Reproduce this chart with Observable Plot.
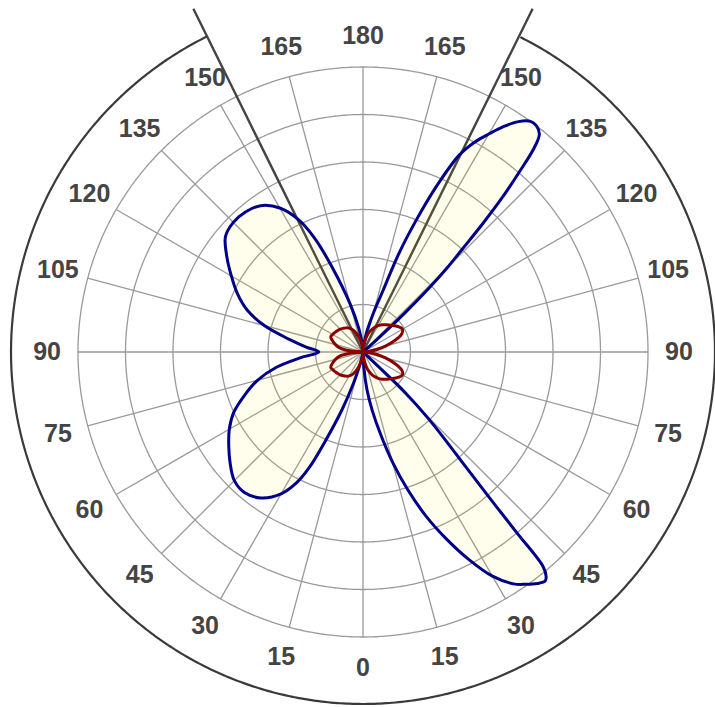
<!DOCTYPE html>
<html>
<head>
<meta charset="utf-8">
<script src="https://cdn.jsdelivr.net/npm/d3@7"></script>
<script src="https://cdn.jsdelivr.net/npm/@observablehq/plot@0.6"></script>
<style>
  html, body { margin: 0; padding: 0; background: #fff; }
  #chart svg { display: block; overflow: visible; }
  #chart svg text { font-weight: 700; }
</style>
</head>
<body>
<div id="chart"></div>
<script>
// ---- data (angle in degrees measured from the bottom, positive to the right; radius in grid rings) ----
const blueTheta = [-180,-175,-170,-165,-160,-157,-154,-150,-145,-140,-135,-130,-125,-120,-115,-110,-105,-100,-95,-90,
  -85,-80,-75,-70,-65,-60,-55,-50,-45,-40,-35,-30,-27,-25,-23,-20,-17,-14,-10,-5,
  0,3,6,9,12,15,18,21,24,27,30,33,35,37,38.5,39.2,40.0,40.4,41.0,42.2,44.4,46.2,46.6,47.5,50,
  130,132,133,134,135,136,137,138,139,140,141,142.5,144,146,148,150,152,154,156,158,160,162,165,170,175];
const blueR = [0,0.15,0.5,1.05,1.9,2.6,3.1,3.5,3.76,3.85,3.86,3.78,3.5,3.2,2.92,2.6,2.15,1.6,1.2,0.93,
  1.3,1.85,2.3,2.65,3.0,3.25,3.45,3.65,3.83,3.87,3.75,3.45,3.1,2.7,2.05,1.3,0.7,0.3,0.06,0.01,
  0,0.32,0.8,1.25,1.76,2.4,3.05,3.7,4.3,4.9,5.45,5.82,5.97,6.1,6.16,6.1,5.9,5.0,4.0,3.0,2.0,1.2,0.55,0.15,0,
  0,0.4,1.2,1.9,2.5,3.0,3.7,4.4,5.0,5.6,5.9,6.0,6.0,5.85,5.6,5.3,5.0,4.6,3.85,3.0,2.2,1.35,0.85,0.4,0.12];

const redTheta = [-180,-175,-170,-165,-160,-155,-150,-145,-140,-135,-130,-125,-120,-115,-110,-105,-100,-95,-90,
  -85,-80,-75,-70,-65,-60,-55,-50,-45,-40,-35,-30,-25,-20,-15,-10,-5,
  0,5,10,15,20,25,30,35,40,45,50,55,60,65,70,75,80,85,90,
  95,100,105,110,115,120,125,130,135,140,145,150,155,160,165,170,175];
const redR = [0,0.1,0.2,0.3,0.42,0.52,0.58,0.62,0.65,0.68,0.7,0.72,0.74,0.75,0.68,0.6,0.5,0.28,0,
  0.28,0.5,0.6,0.68,0.75,0.74,0.72,0.7,0.68,0.65,0.62,0.58,0.52,0.42,0.3,0.2,0.1,
  0,0.12,0.25,0.38,0.48,0.57,0.64,0.7,0.75,0.8,0.86,0.92,0.96,0.9,0.72,0.5,0.3,0.12,0,
  0.12,0.3,0.5,0.72,0.9,0.96,0.92,0.86,0.8,0.75,0.7,0.64,0.57,0.48,0.38,0.25,0.12];

const tickAngles = [-165,-150,-135,-120,-105,-90,-75,-60,-45,-30,-15,0,15,30,45,60,75,90,105,120,135,150,165,180];
const tickLabels = ["165","150","135","120","105","90","75","60","45","30","15","0","15","30","45","60","75","90","105","120","135","150","165","180"];
const ringValues = [1,2,3,4,5,6];
const sectorEdges = [-153.7, 153.7];

// ---- geometry helpers ----
const RING = 10;                 // degrees of arc per ring unit in the projection
const lat = r => 90 - RING * r;  // radius -> latitude from the pole
const LABEL_R = 6.65, OUTER_R = 7.41, EDGE_R = 8.06;

const blue = blueTheta.map((t, i) => ({theta: t, r: blueR[i]}));
const red = redTheta.map((t, i) => ({theta: t, r: redR[i]}));
const ticks = tickAngles.map((t, i) => ({theta: t, label: tickLabels[i]}));
const outerArc = d3.range(-153.7, 153.71, 0.5);

const chart = Plot.plot({
  width: 715,
  height: 707,
  marginLeft: 12.5, marginRight: 2.5, marginTop: 1.5, marginBottom: 5.5,
  projection: {
    type: "azimuthal-equidistant",
    rotate: [0, -90],
    clip: false,
    domain: d3.geoCircle().center([0, 90]).radius(350 / 47.5 * RING)()
  },
  marks: [
    Plot.geo(ringValues, {geometry: r => d3.geoCircle().center([0, 90]).radius(RING * r).precision(0.5)(), fill: "none", stroke: "#9a9a9a", strokeWidth: 1.3}),
    Plot.link(tickAngles, {x1: d => d, y1: () => 90, x2: d => d, y2: () => lat(6), stroke: "#9a9a9a", strokeWidth: 1.3}),
    Plot.line(outerArc, {x: d => d, y: () => lat(OUTER_R), stroke: "#3a3a3a", strokeWidth: 2.2}),
    Plot.link(sectorEdges, {x1: d => d, y1: () => 90, x2: d => d, y2: () => lat(EDGE_R), stroke: "#444", strokeWidth: 2.4}),
    Plot.line(blue, {x: "theta", y: d => lat(d.r), curve: "catmull-rom-closed", fill: "#ffee00", fillOpacity: 0.07, stroke: "#000088", strokeWidth: 3}),
    Plot.line(red, {x: "theta", y: d => lat(d.r), curve: "catmull-rom-closed", fill: "none", stroke: "#8b0000", strokeWidth: 3}),
    Plot.text(ticks, {x: "theta", y: () => lat(LABEL_R), text: "label", fontSize: 25, fontWeight: 700, fill: "#444", fontFamily: "Liberation Sans, Arial, sans-serif"})
  ]
});
document.getElementById("chart").appendChild(chart);
</script>
</body>
</html>
